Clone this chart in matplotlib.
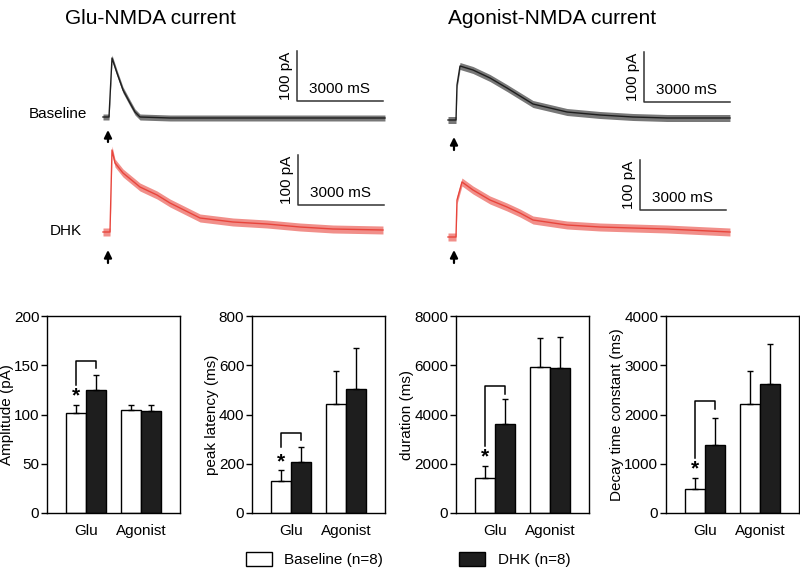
import matplotlib.pyplot as plt
from matplotlib.patches import Patch

plt.rcParams['font.family'] = ['Liberation Sans', 'DejaVu Sans']

# example traces, time in ms and current in pA above baseline
glu_base_t = [0, 174, 209, 314, 488, 698, 942, 1116, 1290, 2337, 9836]
glu_base_i = [0, 0, 0, 118, 88, 54, 28, 10, 0, -2, -2]
glu_dhk_t = [0, 174, 244, 314, 419, 698, 1290, 1884, 2337, 3384, 4535, 5720, 6871, 8022, 9766]
glu_dhk_i = [0, 0, 0, 164, 138, 118, 90, 74, 58, 28, 20, 16, 10, 6, 4]
ago_base_t = [0, 209, 279, 314, 419, 872, 1465, 2058, 2511, 2965, 4151, 5302, 6453, 7639, 9836]
ago_base_i = [0, 0, 0, 70, 108, 100, 84, 64, 48, 32, 16, 10, 6, 4, 4]
ago_dhk_t = [0, 209, 279, 314, 488, 872, 1465, 2058, 2511, 2965, 4151, 5302, 6453, 7639, 9836]
ago_dhk_i = [0, 0, 0, 74, 110, 94, 74, 60, 48, 34, 24, 20, 18, 16, 10]

# summary bars (mean and SEM)
groups = ['Glu', 'Agonist']
amp_base, amp_base_err = [102, 105], [8, 5]
amp_dhk, amp_dhk_err = [125, 104], [15, 6]
lat_base, lat_base_err = [128, 443], [48, 135]
lat_dhk, lat_dhk_err = [207, 503], [59, 169]
dur_base, dur_base_err = [1420, 5946], [472, 1149]
dur_dhk, dur_dhk_err = [3608, 5892], [1027, 1270]
tau_base, tau_base_err = [494, 2219], [223, 664]
tau_dhk, tau_dhk_err = [1381, 2626], [555, 812]

RED = '#e8453c'
DARK = '#1e1e1e'

fig = plt.figure(figsize=(8, 5.75), dpi=100)


def px_rect(x0, y0, x1, y1):
    return [x0 / 800, 1 - y1 / 575, (x1 - x0) / 800, (y1 - y0) / 575]


def draw_trace(ax, t, i, off, color, hw):
    lo = [v + off - hw for v in i]
    hi = [v + off + hw for v in i]
    ax.fill_between(t, lo, hi, color=color, alpha=0.6, lw=0)
    ax.plot(t, [v + off for v in i], color=color, lw=1.0)


def scale_bar(ax, x0, y0):
    ax.plot([x0, x0, x0 + 3000], [y0 + 100, y0, y0], color='#333333', lw=1.1)
    ax.text(x0 - 150, y0 + 50, '100 pA', rotation=90, ha='right', va='center', fontsize=11)
    ax.text(x0 + 1500, y0 + 10, '3000 mS', ha='center', va='bottom', fontsize=11)


def stim_arrow(ax, x, y0, y1):
    ax.annotate('', xy=(x, y1), xytext=(x, y0),
                arrowprops=dict(arrowstyle='-|>', color='black', lw=1.6, mutation_scale=11,
                                shrinkA=0, shrinkB=0))


# trace panels
ax_g = fig.add_axes(px_rect(95, 45, 395, 265))
ax_a = fig.add_axes(px_rect(440, 45, 740, 265))
for ax in (ax_g, ax_a):
    ax.set_xlim(-279, 10186)
    ax.set_ylim(-296, 144)
    ax.axis('off')

draw_trace(ax_g, glu_base_t, glu_base_i, 0, DARK, 6)
draw_trace(ax_g, glu_dhk_t, glu_dhk_i, -230, RED, 8)
scale_bar(ax_g, 6767, 32)
scale_bar(ax_g, 6802, -176)
stim_arrow(ax_g, 174, -50, -26)
stim_arrow(ax_g, 174, -292, -266)

draw_trace(ax_a, ago_base_t, ago_base_i, -6, DARK, 7)
draw_trace(ax_a, ago_dhk_t, ago_dhk_i, -240, RED, 8)
scale_bar(ax_a, 6837, 30)
scale_bar(ax_a, 6697, -186)
stim_arrow(ax_a, 209, -66, -40)
stim_arrow(ax_a, 209, -292, -266)

fig.text(65 / 800, 1 - 18 / 575, 'Glu-NMDA current', fontsize=15, ha='left', va='center')
fig.text(448 / 800, 1 - 18 / 575, 'Agonist-NMDA current', fontsize=15, ha='left', va='center')
fig.text(87 / 800, 1 - 114 / 575, 'Baseline', fontsize=11, ha='right', va='center')
fig.text(82 / 800, 1 - 231 / 575, 'DHK', fontsize=11, ha='right', va='center')

# bar panels
panels = [
    (47, amp_base, amp_base_err, amp_dhk, amp_dhk_err, 200, 50, 'Amplitude (pA)', (154, 130, 147, 119)),
    (252, lat_base, lat_base_err, lat_dhk, lat_dhk_err, 800, 200, 'peak latency (ms)', (324, 270, 297, 209)),
    (456, dur_base, dur_base_err, dur_dhk, dur_dhk_err, 8000, 2000, 'duration (ms)', (5162, 2703, 4838, 2297)),
    (666, tau_base, tau_base_err, tau_dhk, tau_dhk_err, 4000, 1000, 'Decay time constant (ms)', (2274, 1124, 2118, 887)),
]
w = 0.364
for left, base, base_err, dhk, dhk_err, top, step, label, sig in panels:
    ax = fig.add_axes(px_rect(left, 316, left + 133, 513))
    xs = [0, 1]
    xb = [x - w / 2 for x in xs]
    xd = [x + w / 2 for x in xs]
    ax.bar(xb, base, w, color='white', edgecolor='black', lw=1)
    ax.bar(xd, dhk, w, color=DARK, edgecolor='black', lw=1)
    ax.errorbar(xb, base, yerr=[[0, 0], base_err], fmt='none', ecolor='black', elinewidth=1, capsize=2)
    ax.errorbar(xd, dhk, yerr=[[0, 0], dhk_err], fmt='none', ecolor='black', elinewidth=1, capsize=2)
    ytop, yl, yr, ystar = sig
    ax.plot([xb[0], xb[0], xd[0], xd[0]], [yl, ytop, ytop, yr], color='black', lw=1.1)
    ax.text(xb[0], ystar, '*', ha='center', va='center', fontsize=15, fontweight='bold')
    ax.set_xlim(-0.71, 1.71)
    ax.set_ylim(0, top)
    ax.set_yticks(range(0, top + 1, step))
    ax.set_xticks(xs)
    ax.set_xticklabels(groups)
    ax.tick_params(axis='x', length=0, pad=8, labelsize=11)
    ax.tick_params(axis='y', length=4, width=1, labelsize=11, direction='out', pad=1.5)
    ax.set_ylabel(label, fontsize=11, labelpad=0)
    for s in ax.spines.values():
        s.set_linewidth(1)

fig.legend(handles=[Patch(facecolor='white', edgecolor='black'), Patch(facecolor=DARK, edgecolor='black')],
           labels=['Baseline (n=8)', 'DHK (n=8)'], loc='lower center', bbox_to_anchor=(0.51, -0.01),
           ncol=2, frameon=False, columnspacing=5, handlelength=1.7, handleheight=1.0, fontsize=11)

fig.savefig('out.png', dpi=100)
